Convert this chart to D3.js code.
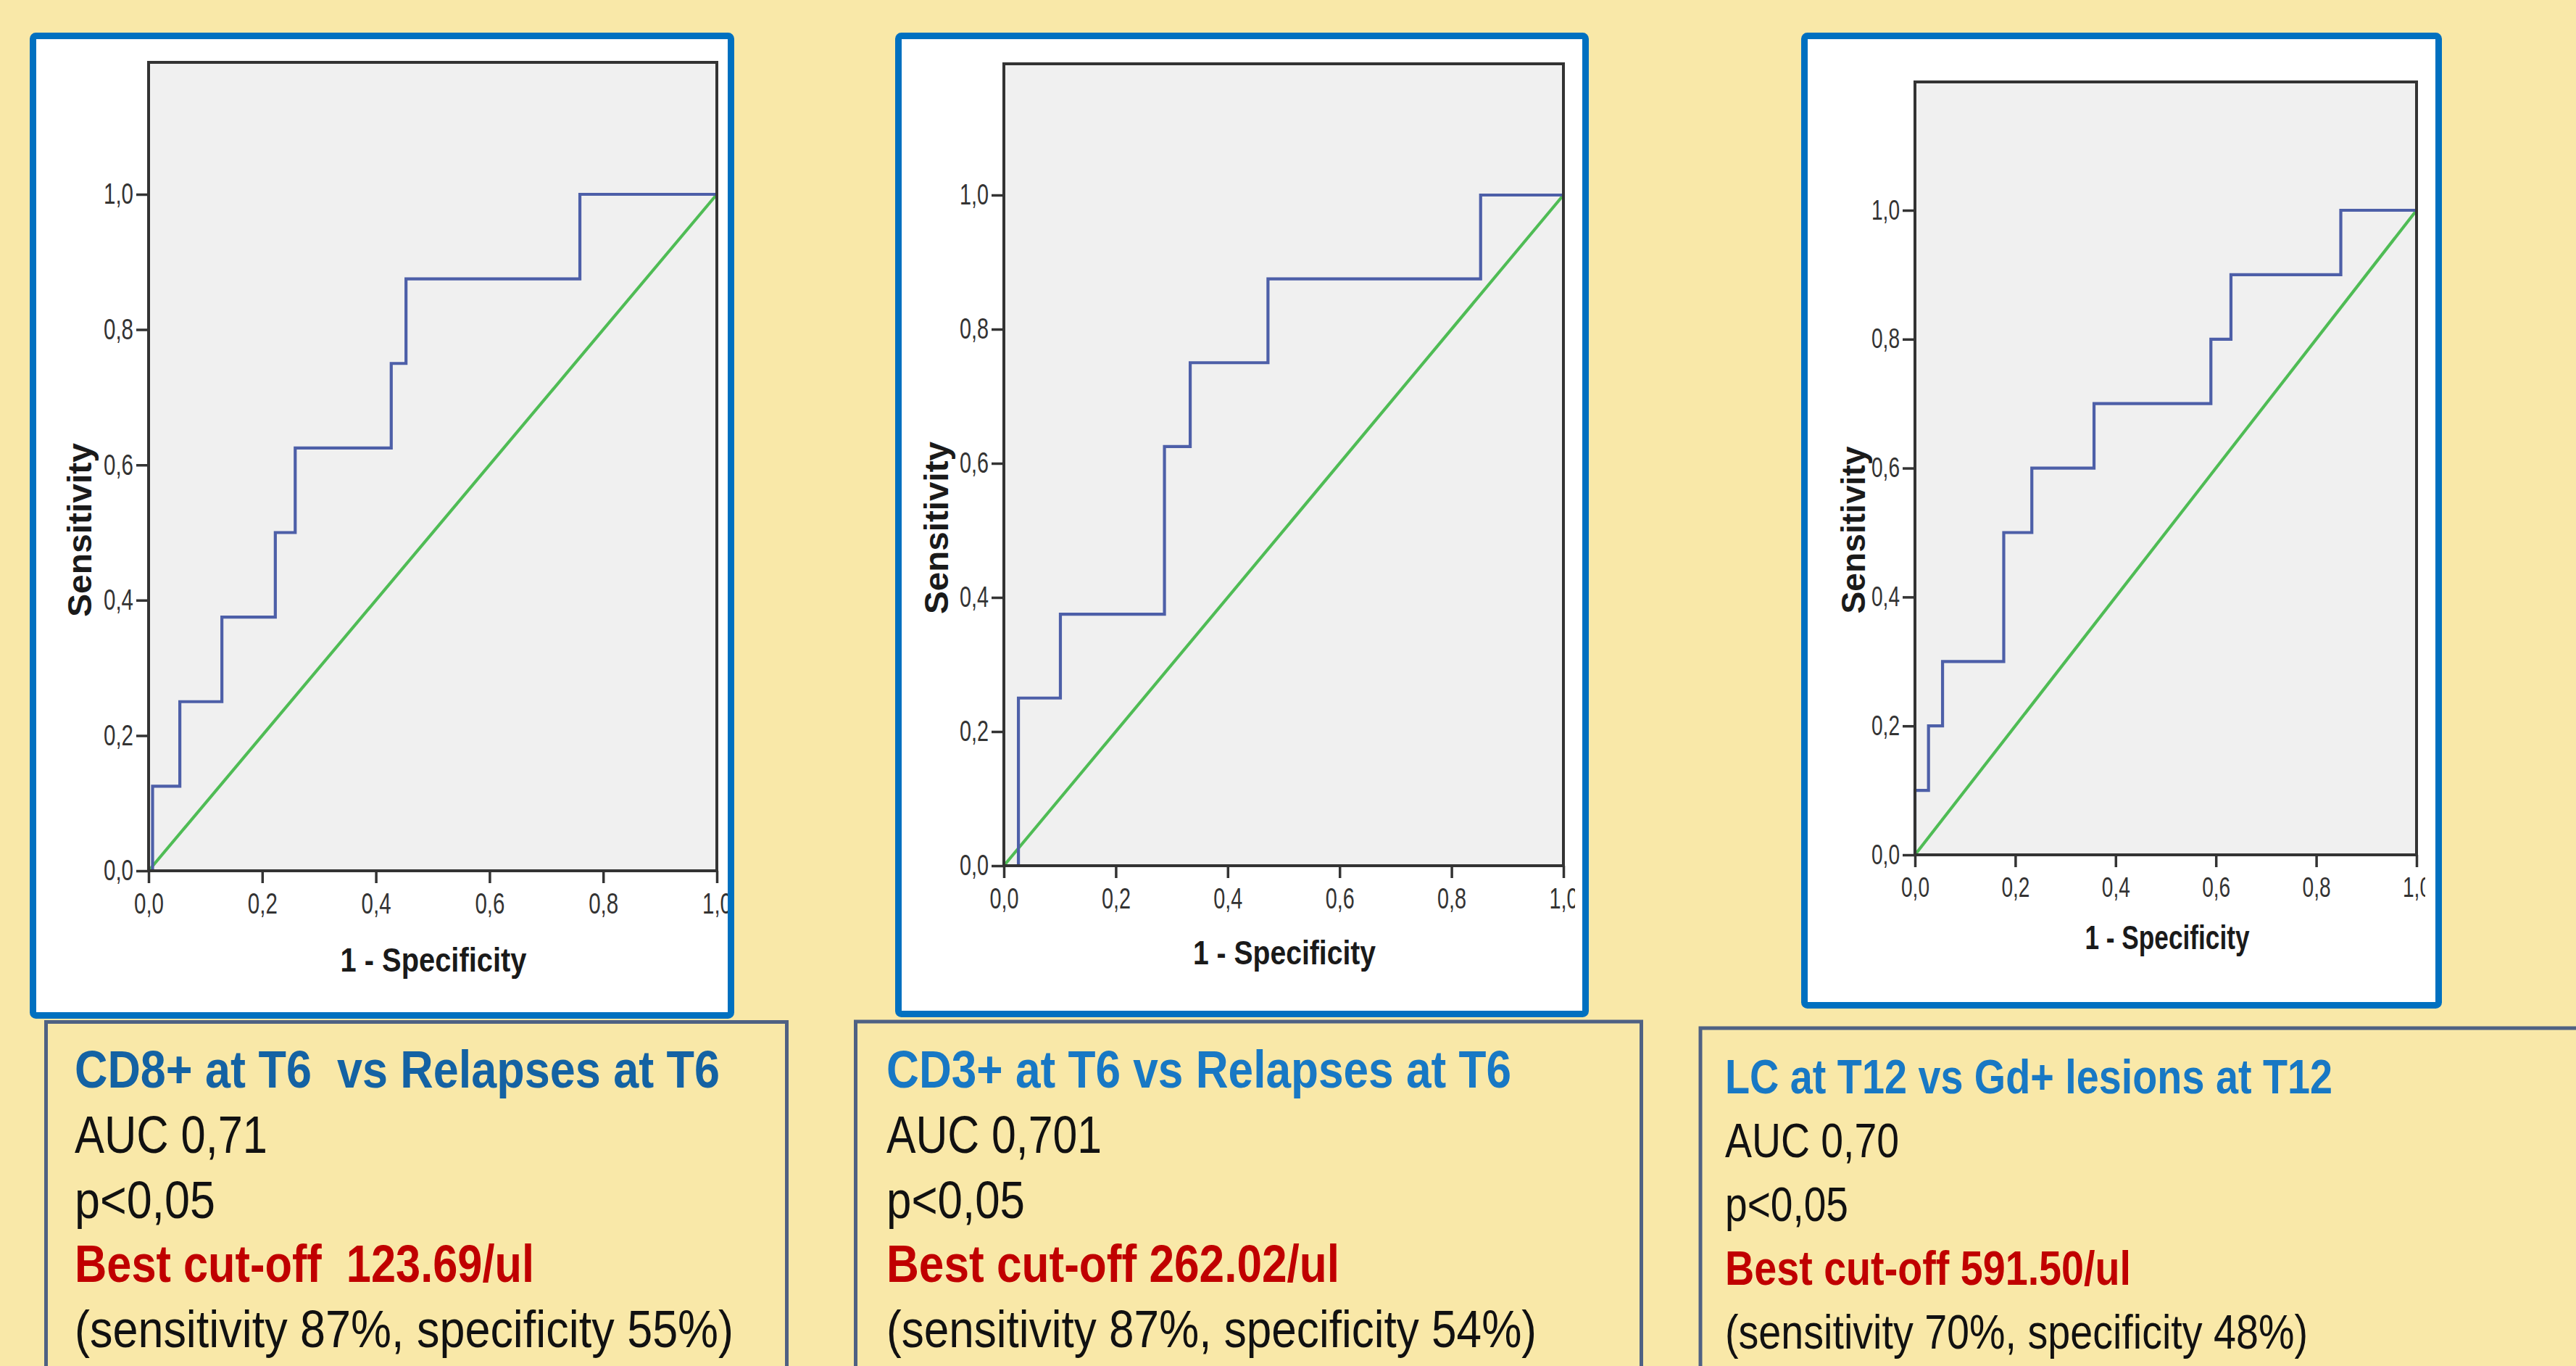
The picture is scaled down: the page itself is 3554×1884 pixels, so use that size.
<!DOCTYPE html>
<html><head><meta charset="utf-8">
<script src="https://cdn.jsdelivr.net/npm/d3@7"></script>
<style>
html,body{margin:0;padding:0;background:#F9E8A8;overflow:hidden}
text{white-space:pre}
</style>
</head><body>
<svg id="c" width="3554" height="1884" xmlns="http://www.w3.org/2000/svg"></svg>
<script>
// ---------- DATA ----------
const tickValues = [0, 0.2, 0.4, 0.6, 0.8, 1.0];
const tickLabels = ["0,0", "0,2", "0,4", "0,6", "0,8", "1,0"];
const xAxisTitle = "1 - Specificity";
const yAxisTitle = "Sensitivity";

// ROC curve vertices (1 - specificity, sensitivity)
const roc1Fpr = [0, 0.007, 0.007, 0.055, 0.055, 0.129, 0.129, 0.223, 0.223, 0.258, 0.258, 0.427, 0.427, 0.453, 0.453, 0.759, 0.759, 1];
const roc1Tpr = [0, 0, 0.125, 0.125, 0.25, 0.25, 0.375, 0.375, 0.5, 0.5, 0.625, 0.625, 0.75, 0.75, 0.875, 0.875, 1, 1];

const roc2Fpr = [0, 0.026, 0.026, 0.101, 0.101, 0.287, 0.287, 0.333, 0.333, 0.472, 0.472, 0.852, 0.852, 1];
const roc2Tpr = [0, 0, 0.25, 0.25, 0.375, 0.375, 0.625, 0.625, 0.75, 0.75, 0.875, 0.875, 1, 1];

const roc3Fpr = [0, 0, 0.027, 0.027, 0.055, 0.055, 0.177, 0.177, 0.233, 0.233, 0.357, 0.357, 0.59, 0.59, 0.63, 0.63, 0.849, 0.849, 1];
const roc3Tpr = [0, 0.1, 0.1, 0.2, 0.2, 0.3, 0.3, 0.5, 0.5, 0.6, 0.6, 0.7, 0.7, 0.8, 0.8, 0.9, 0.9, 1, 1];

const refFpr = [0, 1];
const refTpr = [0, 1];

const panelTitles = ["CD8+ at T6  vs Relapses at T6", "CD3+ at T6 vs Relapses at T6", "LC at T12 vs Gd+ lesions at T12"];
const aucLabels = ["AUC 0,71", "AUC 0,701", "AUC 0,70"];
const pLabels = ["p<0,05", "p<0,05", "p<0,05"];
const cutoffLabels = ["Best cut-off  123.69/ul", "Best cut-off 262.02/ul", "Best cut-off 591.50/ul"];
const sensSpecLabels = ["(sensitivity 87%, specificity 55%)", "(sensitivity 87%, specificity 54%)", "(sensitivity 70%, specificity 48%)"];

// ---------- LAYOUT ----------
const rocData = [[roc1Fpr, roc1Tpr], [roc2Fpr, roc2Tpr], [roc3Fpr, roc3Tpr]];
const panels = [
  {frame:[45.5, 49.5, 963, 1351], clipR:1004, plot:{x0:205, x1:989, y0:1201, y1:268, top:86},
   yT:{x:126, y:731, len:240}, xT:{x:598, y:1340, len:257}, tickFont:40, tickLen:41},
  {frame:[1239.5, 49.5, 948, 1349], clipR:2173, plot:{x0:1385, x1:2157, y0:1194, y1:269, top:88},
   yT:{x:1308, y:728, len:238}, xT:{x:1772, y:1330, len:252}, tickFont:40, tickLen:40},
  {frame:[2489.5, 49.5, 875, 1337], clipR:3346, plot:{x0:2642, x1:3334, y0:1179, y1:290, top:113},
   yT:{x:2573, y:731, len:231}, xT:{x:2990, y:1309, len:227}, tickFont:38, tickLen:39}
];
const boxes = [
  {x:63.5, y:1409.5, w:1022, tx:103, base:[1500,1590,1680,1768,1858], fs:72,
   lens:[890,266,194,634,909], titleColor:"#1462A3"},
  {x:1180.5, y:1409, w:1084, tx:1223, base:[1500,1590,1680,1768,1858], fs:72,
   lens:[862,297,191,625,897], titleColor:"#1878C4"},
  {x:2346, y:1418, w:1300, tx:2380, base:[1508,1596,1684,1772,1860], fs:67,
   lens:[838,240,170,560,804], titleColor:"#1878C4"}
];

const svg = d3.select("#c");
const fmt = (d) => tickLabels[tickValues.indexOf(d)];
const defs = svg.append("defs");

panels.forEach((p, i) => {
  const [fx, fy, fw, fh] = p.frame;
  const g = svg.append("g");
  g.append("rect").attr("x", fx).attr("y", fy).attr("width", fw).attr("height", fh).attr("fill", "#FFFFFF");
  defs.append("clipPath").attr("id", "clip" + i).append("rect")
    .attr("x", fx + 4).attr("y", fy + 4).attr("width", p.clipR - fx - 4).attr("height", fh - 8);
  const inner = g.append("g").attr("clip-path", `url(#clip${i})`);

  const yMax = (p.plot.y0 - p.plot.top) / (p.plot.y0 - p.plot.y1);
  const x = d3.scaleLinear().domain([0, 1]).range([p.plot.x0, p.plot.x1]);
  const y = d3.scaleLinear().domain([0, yMax]).range([p.plot.y0, p.plot.top]);

  inner.append("rect").attr("x", x(0)).attr("y", y(yMax)).attr("width", x(1) - x(0)).attr("height", y(0) - y(yMax))
    .attr("fill", "#F0F0F0");

  const line = d3.line().x(d => x(d[0])).y(d => y(d[1]));
  inner.append("path").datum(d3.zip(refFpr, refTpr)).attr("d", line)
    .attr("fill", "none").attr("stroke", "#4FBC55").attr("stroke-width", 4.2);
  inner.append("path").datum(d3.zip(rocData[i][0], rocData[i][1])).attr("d", line)
    .attr("fill", "none").attr("stroke", "#4D5FA8").attr("stroke-width", 4.2).attr("stroke-linejoin", "miter");

  inner.append("rect").attr("x", x(0)).attr("y", y(yMax)).attr("width", x(1) - x(0)).attr("height", y(0) - y(yMax))
    .attr("fill", "none").attr("stroke", "#333").attr("stroke-width", 4);

  const styleAxis = (sel) => {
    sel.select(".domain").remove();
    sel.selectAll(".tick line").attr("stroke", "#333").attr("stroke-width", 3.5);
    sel.selectAll(".tick text").attr("fill", "#333").attr("font-family", "Liberation Sans, Arial, sans-serif")
      .attr("font-size", p.tickFont).attr("textLength", p.tickLen).attr("lengthAdjust", "spacingAndGlyphs");
  };
  inner.append("g").attr("transform", `translate(0,${y(0)})`)
    .call(d3.axisBottom(x).tickValues(tickValues).tickFormat(fmt).tickSize(17).tickPadding(14))
    .call(styleAxis);
  inner.append("g").attr("transform", `translate(${x(0)},0)`)
    .call(d3.axisLeft(y).tickValues(tickValues).tickFormat(fmt).tickSize(17).tickPadding(4))
    .call(styleAxis);

  inner.append("text").text(xAxisTitle).attr("x", p.xT.x).attr("y", p.xT.y).attr("text-anchor", "middle")
    .attr("font-family", "Liberation Sans, Arial, sans-serif").attr("font-weight", "bold").attr("font-size", 46)
    .attr("fill", "#1a1a1a").attr("textLength", p.xT.len).attr("lengthAdjust", "spacingAndGlyphs");
  inner.append("text").text(yAxisTitle).attr("transform", `translate(${p.yT.x},${p.yT.y}) rotate(-90)`)
    .attr("text-anchor", "middle")
    .attr("font-family", "Liberation Sans, Arial, sans-serif").attr("font-weight", "bold").attr("font-size", 46)
    .attr("fill", "#1a1a1a").attr("textLength", p.yT.len).attr("lengthAdjust", "spacingAndGlyphs");

  g.append("rect").attr("x", fx).attr("y", fy).attr("width", fw).attr("height", fh).attr("rx", 4)
    .attr("fill", "none").attr("stroke", "#0070C0").attr("stroke-width", 9);
});

boxes.forEach((b, i) => {
  const g = svg.append("g");
  g.append("rect").attr("x", b.x).attr("y", b.y).attr("width", b.w).attr("height", 1884 - b.y + 20)
    .attr("fill", "#F9E8A8").attr("stroke", "#4F6183").attr("stroke-width", 5);
  const lines = [panelTitles[i], aucLabels[i], pLabels[i], cutoffLabels[i], sensSpecLabels[i]];
  const colors = [b.titleColor, "#111", "#111", "#C00000", "#111"];
  const weights = ["bold", "normal", "normal", "bold", "normal"];
  lines.forEach((t, k) => {
    g.append("text").text(t).attr("x", b.tx).attr("y", b.base[k])
      .attr("font-family", "Liberation Sans Narrow, Arial Narrow, Liberation Sans, Arial, sans-serif")
      .attr("font-size", b.fs).attr("font-weight", weights[k]).attr("fill", colors[k])
      .attr("textLength", b.lens[k]).attr("lengthAdjust", "spacingAndGlyphs");
  });
});
</script>
</body></html>
